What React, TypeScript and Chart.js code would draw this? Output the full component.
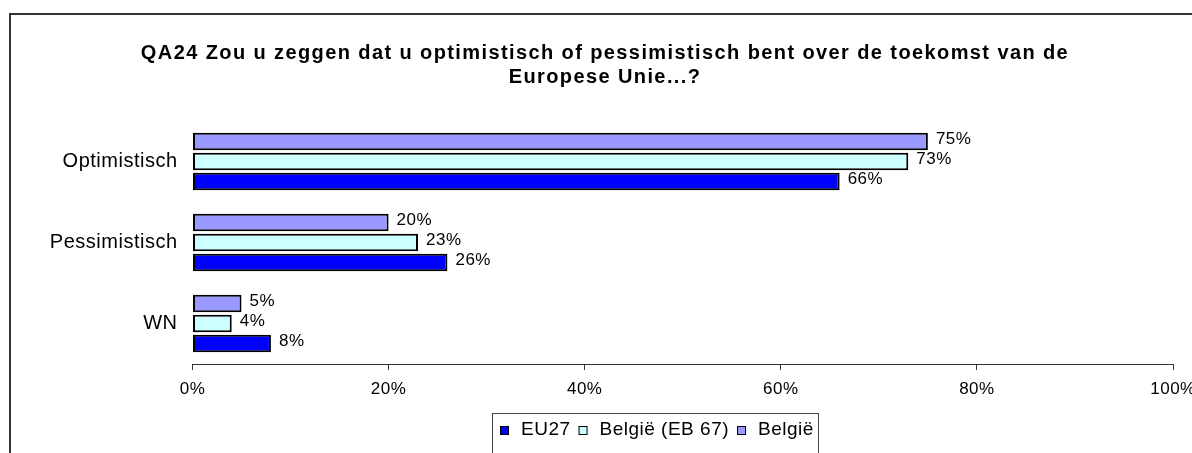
import React, { useEffect, useRef } from "react";
import { Chart, registerables } from "chart.js";

Chart.register(...registerables);

const FONT = "'Liberation Sans', Arial, Helvetica, sans-serif";

const titleLines = [
  "QA24 Zou u zeggen dat u optimistisch of pessimistisch bent over de toekomst van de",
  "Europese Unie...?",
];
const categories = ["Optimistisch", "Pessimistisch", "WN"];
const seriesNames = ["België", "België (EB 67)", "EU27"];
const seriesColors = ["#9999FF", "#CCFFFF", "#0000FF"];
const belgie = [75, 20, 5];
const belgieEB67 = [73, 23, 4];
const eu27 = [66, 26, 8];
const xTickValues = [0, 20, 40, 60, 80, 100];
const legendOrder = [2, 1, 0];

const spacingPlugin = {
  id: "spacingPlugin",
  beforeDraw(chart: any) {
    chart.ctx.letterSpacing = "1.4px";
  },
  beforeDatasetsDraw(chart: any) {
    chart.ctx.letterSpacing = "0.5px";
  },
};

const valueLabelPlugin = {
  id: "valueLabelPlugin",
  afterDatasetsDraw(chart: any) {
    const ctx = chart.ctx;
    ctx.save();
    ctx.font = `17px ${FONT}`;
    ctx.fillStyle = "#000";
    ctx.textAlign = "left";
    ctx.textBaseline = "middle";
    chart.data.datasets.forEach((ds: any, di: number) => {
      const meta = chart.getDatasetMeta(di);
      meta.data.forEach((bar: any, i: number) => {
        ctx.fillText(`${ds.data[i]}%`, bar.x + 8, bar.y - 2);
      });
    });
    ctx.restore();
  },
};

const boxLegendPlugin = {
  id: "boxLegendPlugin",
  afterDraw(chart: any) {
    const ctx = chart.ctx;
    ctx.save();
    ctx.letterSpacing = "0.5px";
    ctx.strokeStyle = "#444";
    ctx.lineWidth = 1;
    ctx.strokeRect(492.5, 413.5, 326, 100);
    ctx.font = `19px ${FONT}`;
    ctx.textBaseline = "middle";
    ctx.textAlign = "left";
    let x = 500;
    const y = 430;
    legendOrder.forEach((i) => {
      const ds = chart.data.datasets[i];
      ctx.fillStyle = ds.backgroundColor;
      ctx.fillRect(x, y - 4, 9, 9);
      ctx.strokeStyle = "#000";
      ctx.lineWidth = 1;
      ctx.strokeRect(x + 0.5, y - 3.5, 8, 8);
      x += 21;
      ctx.fillStyle = "#000";
      ctx.fillText(ds.label, x, y);
      x += ctx.measureText(ds.label).width + 8;
    });
    ctx.letterSpacing = "0px";
    ctx.strokeStyle = "#333";
    ctx.lineWidth = 2;
    ctx.strokeRect(10, 14, 1400, 700);
    ctx.restore();
  },
};

export default function App() {
  const ref = useRef<HTMLCanvasElement>(null);
  useEffect(() => {
    if (!ref.current) return;
    const values = [belgie, belgieEB67, eu27];
    const chart = new Chart(ref.current, {
      type: "bar",
      data: {
        labels: categories,
        datasets: seriesNames.map((name, i) => ({
          label: name,
          data: values[i],
          backgroundColor: seriesColors[i],
          borderColor: "#000",
          borderWidth: 2,
          borderSkipped: false,
          categoryPercentage: 0.74,
          barPercentage: 0.88,
        })),
      },
      options: {
        indexAxis: "y",
        responsive: false,
        animation: false,
        devicePixelRatio: 1,
        layout: { padding: { left: 37, right: 37, top: 0, bottom: 49 } },
        plugins: {
          legend: { display: false },
          tooltip: { enabled: false },
          title: {
            display: true,
            text: titleLines,
            color: "#000",
            font: { family: FONT, size: 20, weight: "bold", lineHeight: "24px" },
            padding: { top: 41, bottom: 32 },
          },
        },
        scales: {
          x: {
            type: "linear",
            min: 0,
            max: 100,
            afterBuildTicks(scale: any) {
              scale.ticks = xTickValues.map((v) => ({ value: v }));
            },
            afterFit(scale: any) {
              scale.height = 40;
            },
            grid: {
              display: true,
              drawOnChartArea: false,
              drawTicks: true,
              tickLength: 6,
              color: "#333",
            },
            border: { display: true, color: "#333", width: 1 },
            ticks: {
              z: 1,
              padding: 9,
              color: "#000",
              font: { family: FONT, size: 17 },
              callback: (v: any) => `${v}%`,
            },
          },
          y: {
            afterFit(scale: any) {
              scale.width = 155.5;
            },
            grid: { display: false, drawTicks: false },
            border: { display: false },
            ticks: {
              z: 1,
              padding: 15,
              color: "#000",
              font: { family: FONT, size: 20 },
            },
          },
        },
      },
      plugins: [spacingPlugin, valueLabelPlugin, boxLegendPlugin],
    } as any);
    return () => chart.destroy();
  }, []);
  return (
    <div
      style={{
        position: "fixed",
        left: 0,
        top: 0,
        width: 1192,
        height: 453,
        overflow: "hidden",
        background: "#fff",
      }}
    >
      <canvas ref={ref} width={1210} height={453} style={{ display: "block" }} />
    </div>
  );
}
